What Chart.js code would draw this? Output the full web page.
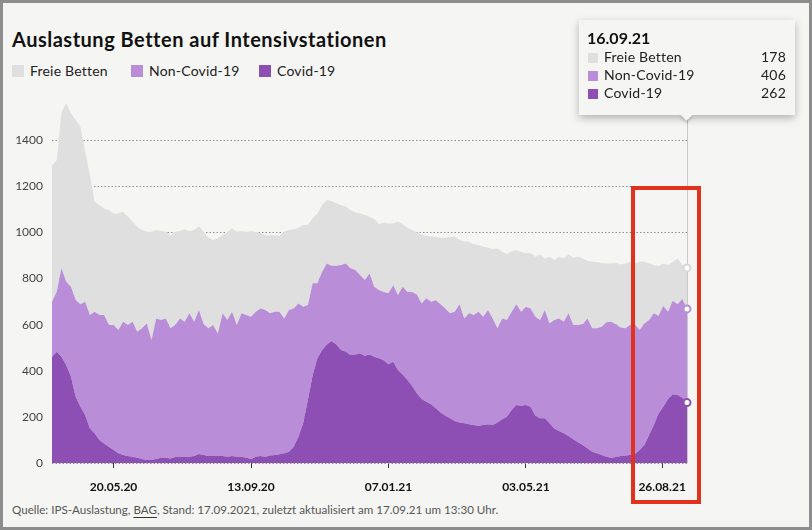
<!DOCTYPE html>
<html>
<head>
<meta charset="utf-8">
<title>Auslastung Betten auf Intensivstationen</title>
<style>
  html, body { margin: 0; padding: 0; }
  body { background: #f5f5f3; font-family: 'Lato', 'Noto Sans', sans-serif; color: #1a1a1a; }
  #page { position: relative; width: 812px; height: 530px; overflow: hidden; background: #f5f5f3; }
  .frame { position: absolute; left: 0; top: 0; width: 812px; height: 530px; box-sizing: border-box;
           border: 3px solid #8d8d8d; z-index: 20; pointer-events: none; }
  .title { position: absolute; left: 12px; top: 27px; font-size: 20px; letter-spacing: 0.5px; font-weight: bold; color: #111; white-space: nowrap; }
  .legend { position: absolute; left: 12px; top: 62px; font-size: 14px; letter-spacing: 0.2px; color: #222; white-space: nowrap; }
  .legend span.item { position: absolute; top: 0; white-space: nowrap; }
  .sw { display: inline-block; width: 12px; height: 12px; vertical-align: -1px; margin-right: 6px; }
  .footer { position: absolute; left: 12px; top: 503px; font-size: 11.6px; color: #555; white-space: nowrap; }
  .footer u { text-decoration-color: #333; text-underline-offset: 3px; }
  canvas { position: absolute; left: 0; top: 0; z-index: 2; }
  #vline { position: absolute; width: 1px; background: #c9c9c9; z-index: 1; }
  #tip { position: absolute; left: 579px; top: 20px; width: 216px; height: 95px; background: #f5f5f3;
         box-shadow: 0 3px 8px rgba(0,0,0,0.28); z-index: 10; font-size: 14px; color: #222; }
  #tip .arrow { position: absolute; width: 9px; height: 9px; background: #f5f5f3; transform: rotate(45deg);
                bottom: -4px; box-shadow: 2px 2px 3px rgba(0,0,0,0.15); }
  #tip .cover { position: absolute; left: 0; right: 0; bottom: 0; height: 8px; background: #f5f5f3; }
  #tip .head { position: absolute; left: 8px; top: 8px; font-size: 16px; font-weight: bold; color: #111; }
  #tip .row { position: absolute; left: 9px; right: 9px; height: 18px; line-height: 18px; letter-spacing: 0.2px; }
  #tip .row .sw { width: 10px; height: 10px; margin-right: 6px; vertical-align: -1px; }
  #tip .row .v { position: absolute; right: 0; top: 0; }
  .redbox { position: absolute; left: 631px; top: 186px; width: 70px; height: 318px; box-sizing: border-box;
            border: 4px solid #e0321c; z-index: 15; }
</style>
<script src="https://cdn.jsdelivr.net/npm/chart.js"></script>
</head>
<body>
<div id="page">
  <div class="title">Auslastung Betten auf Intensivstationen</div>
  <div class="legend" id="legend"></div>
  <div id="vline"></div>
  <canvas id="chart" width="812" height="530"></canvas>
  <div id="tip"></div>
  <div class="redbox"></div>
  <div class="footer">Quelle: IPS-Auslastung, <u>BAG</u>, Stand: 17.09.2021, zuletzt aktualisiert am 17.09.21 um 13:30 Uhr.</div>
  <div class="frame"></div>
</div>
<script>
// one value every 4 days, first one on 29.03.2020, last one on 16.09.2021
const startDate = new Date(2020, 2, 29);
const stepDays = 4;

const seriesNames = ['Covid-19', 'Non-Covid-19', 'Freie Betten'];
const seriesColors = ['#8e4fb5', '#b98dd7', '#dfdfdf'];
const pointColors = ['#8e4fb5', '#b98dd7', '#d8d8d8'];

const covid = [461, 482, 461, 425, 374, 287, 244, 208, 150, 129, 100, 85, 71, 56, 42, 35, 30, 27, 23, 17,
  13, 14, 17, 23, 23, 20, 26, 26, 26, 27, 30, 39, 35, 30, 30, 32, 30, 27, 30, 27,
  27, 23, 17, 27, 30, 27, 32, 35, 38, 42, 49, 71, 114, 172, 273, 381, 454, 490, 514, 529,
  514, 490, 482, 468, 471, 475, 465, 471, 461, 454, 446, 428, 439, 403, 384, 360, 334, 302, 277, 266,
  255, 237, 219, 205, 194, 182, 176, 172, 168, 165, 162, 165, 168, 165, 176, 190, 201, 230, 251, 248,
  251, 244, 205, 194, 194, 172, 150, 139, 129, 117, 103, 90, 78, 64, 49, 42, 35, 27, 23, 26,
  30, 32, 35, 39, 56, 78, 121, 165, 215, 244, 277, 298, 295, 283, 262];

const nonCovid = [238, 261, 383, 361, 390, 420, 444, 491, 492, 527, 542, 557, 527, 542, 535, 578, 568, 586, 546, 567,
  592, 519, 610, 597, 604, 564, 572, 601, 587, 622, 583, 624, 567, 554, 568, 530, 619, 593, 626, 571,
  622, 619, 617, 629, 640, 636, 617, 621, 618, 585, 614, 599, 578, 506, 412, 398, 325, 339, 351, 326,
  341, 368, 383, 376, 366, 340, 328, 351, 303, 296, 296, 308, 332, 325, 380, 382, 408, 429, 415, 448,
  444, 469, 469, 465, 455, 474, 512, 455, 481, 477, 494, 469, 495, 462, 408, 437, 419, 426, 437, 408,
  427, 426, 429, 426, 469, 433, 470, 488, 484, 532, 495, 508, 524, 563, 535, 542, 556, 583, 590, 576,
  557, 552, 563, 563, 521, 527, 499, 484, 424, 437, 379, 405, 393, 428, 406];

const freieBetten = [591, 570, 676, 774, 751, 780, 770, 651, 606, 477, 476, 462, 498, 484, 505, 476, 470, 433, 455, 426,
  398, 470, 383, 386, 376, 401, 405, 379, 401, 357, 397, 364, 401, 393, 369, 412, 339, 383, 361, 405,
  357, 361, 372, 347, 326, 325, 339, 332, 329, 376, 347, 344, 328, 354, 347, 281, 303, 289, 275, 281,
  271, 260, 246, 253, 249, 267, 282, 246, 294, 285, 301, 303, 268, 318, 271, 278, 268, 269, 299, 271,
  282, 275, 289, 307, 332, 325, 279, 335, 310, 306, 289, 304, 270, 300, 346, 289, 285, 263, 235, 260,
  231, 239, 260, 285, 224, 289, 260, 267, 274, 256, 292, 296, 285, 249, 289, 286, 276, 255, 252, 266,
  274, 281, 275, 263, 296, 268, 245, 209, 215, 184, 202, 170, 199, 147, 178];

const yTicks = [0, 200, 400, 600, 800, 1000, 1200, 1400];
const xTickDays = [52, 168, 284, 400, 515];
const xTickLabels = ['20.05.20', '13.09.20', '07.01.21', '03.05.21', '26.08.21'];

const days = covid.map((v, i) => i * stepDays);
const lastIdx = covid.length - 1;
const seriesData = [covid, nonCovid, freieBetten];

function fmtDate(dayOffset) {
  const d = new Date(startDate.getTime());
  d.setDate(d.getDate() + dayOffset);
  const p = n => String(n).padStart(2, '0');
  return p(d.getDate()) + '.' + p(d.getMonth() + 1) + '.' + p(d.getFullYear() % 100);
}

// legend (top order: Freie, Non-Covid, Covid)
const legendX = [0, 119, 247];
const legendOrder = [2, 1, 0];
document.getElementById('legend').innerHTML = legendOrder.map((s, k) =>
  '<span class="item" style="left:' + legendX[k] + 'px"><span class="sw" style="background:' + seriesColors[s] + '"></span>' + seriesNames[s] + '</span>'
).join('');

const datasets = seriesData.map((arr, s) => ({
  label: seriesNames[s],
  data: arr,
  backgroundColor: seriesColors[s],
  borderWidth: 0,
  fill: s === 0 ? 'origin' : '-1',
  tension: 0,
  clip: false,
  pointRadius: ctx => ctx.dataIndex === lastIdx ? 3.5 : 0,
  pointHoverRadius: 0,
  pointBackgroundColor: '#ffffff',
  pointBorderColor: pointColors[s],
  pointBorderWidth: 2
}));

const chart = new Chart(document.getElementById('chart'), {
  type: 'line',
  data: { labels: days, datasets: datasets },
  options: {
    responsive: false,
    animation: false,
    events: [],
    layout: { padding: { left: 0, right: 125, top: 94, bottom: 27 } },
    plugins: { legend: { display: false }, tooltip: { enabled: false } },
    scales: {
      x: {
        type: 'linear',
        min: 0,
        max: days[lastIdx],
        afterBuildTicks: sc => { sc.ticks = xTickDays.map(v => ({ value: v })); },
        afterFit: sc => { sc.height = 40; },
        grid: { drawOnChartArea: false, drawTicks: true, tickLength: 5, color: '#333', lineWidth: 1 },
        border: { display: false },
        ticks: {
          autoSkip: false, maxRotation: 0, padding: 12, color: '#111',
          font: { family: 'Lato', size: 12, weight: 'bold' },
          callback: v => xTickLabels[xTickDays.indexOf(v)]
        }
      },
      y: {
        stacked: true,
        min: 0,
        max: 1600,
        afterBuildTicks: sc => { sc.ticks = yTicks.concat([1600]).map(v => ({ value: v })); },
        afterFit: sc => { sc.width = 52; },
        grid: {
          drawTicks: false,
          lineWidth: 1,
          color: ctx => ctx.tick && ctx.tick.value === 1600 ? 'rgba(0,0,0,0)' : '#8f8f8f'
        },
        border: { display: false, dash: [1.5, 2] },
        ticks: {
          padding: 9, color: '#444',
          font: { family: 'Lato', size: 12 },
          callback: v => yTicks.indexOf(v) >= 0 ? String(v) : ''
        }
      }
    }
  }
});

// hover marker: vertical line + info box for the last day
const xs = chart.scales.x, ys = chart.scales.y;
const px = Math.round(xs.getPixelForValue(days[lastIdx]));
const vline = document.getElementById('vline');
vline.style.left = px + 'px';
vline.style.top = '117px';
vline.style.height = (ys.getPixelForValue(0) - 117) + 'px';

const tip = document.getElementById('tip');
let html = '<div class="arrow" style="left:' + (px - 579 - 5) + 'px"></div><div class="cover"></div>';
html += '<div class="head">' + fmtDate(days[lastIdx]) + '</div>';
legendOrder.forEach((s, k) => {
  html += '<div class="row" style="top:' + (28 + k * 18) + 'px"><span class="sw" style="background:' + seriesColors[s] + '"></span>' +
    seriesNames[s] + '<span class="v">' + seriesData[s][lastIdx] + '</span></div>';
});
tip.innerHTML = html;
</script>
</body>
</html>
